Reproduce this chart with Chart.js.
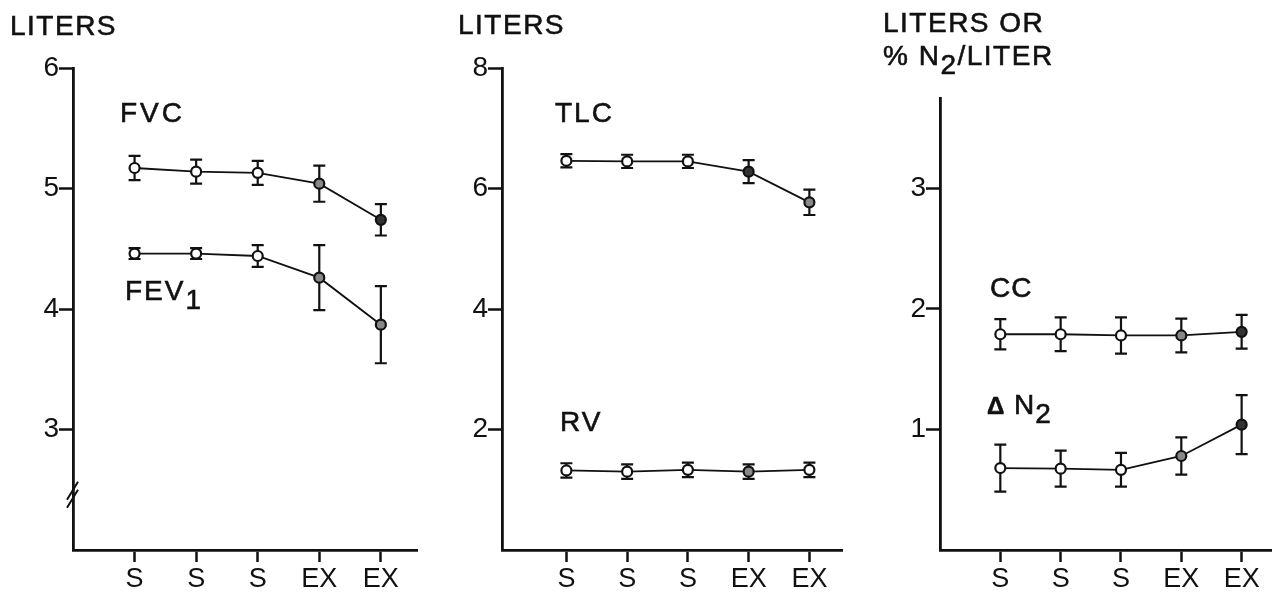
<!DOCTYPE html>
<html><head><meta charset="utf-8">
<script src="https://cdn.jsdelivr.net/npm/chart.js@4/dist/chart.umd.min.js"></script>
<style>
html,body{margin:0;padding:0;background:#fff;}
#wrap{position:relative;width:1279px;height:598px;overflow:hidden;font-family:"Liberation Sans",Arial,sans-serif;color:#111;}
canvas{position:absolute;top:0;}
.lab{position:absolute;white-space:nowrap;line-height:1;font-size:28px;letter-spacing:1.5px;-webkit-text-stroke:0.6px #111;}
.lab sub{font-size:28px;vertical-align:-9px;line-height:0;}
</style></head><body>
<div id="wrap">
<canvas id="c1" width="425" height="598" style="left:0"></canvas>
<canvas id="c2" width="425" height="598" style="left:425px"></canvas>
<canvas id="c3" width="429" height="598" style="left:850px"></canvas>
<div class="lab" style="left:10px;top:12px">LITERS</div>
<div class="lab" style="left:458px;top:11px">LITERS</div>
<div class="lab" style="left:883px;top:9px">LITERS OR</div>
<div class="lab" style="left:883px;top:42px">% N<sub>2</sub>/LITER</div>
<div class="lab" style="left:120px;top:99px;letter-spacing:3px">FVC</div>
<div class="lab" style="left:125px;top:277px;letter-spacing:2px">FEV<sub>1</sub></div>
<div class="lab" style="left:555px;top:99px;letter-spacing:2px">TLC</div>
<div class="lab" style="left:560px;top:408px;letter-spacing:2px">RV</div>
<div class="lab" style="left:990px;top:274px;letter-spacing:1px">CC</div>
<div class="lab" style="left:987px;top:391px;letter-spacing:1px"><span style="font-size:24px;font-weight:bold">&#916;</span> N<sub>2</sub></div>
</div>
<script>
// ---- data ----
const categories = ['S', 'S', 'S', 'EX', 'EX'];
const fvc    = [5.17, 5.14, 5.13, 5.04, 4.74];
const fvcErr = [0.10, 0.10, 0.10, 0.15, 0.13];
const fev1    = [4.46, 4.46, 4.44, 4.26, 3.87];
const fev1Err = [0.045, 0.045, 0.09, 0.27, 0.32];
const tlc    = [6.46, 6.45, 6.45, 6.28, 5.77];
const tlcErr = [0.11, 0.11, 0.11, 0.19, 0.21];
const rv    = [1.32, 1.30, 1.33, 1.30, 1.33];
const rvErr = [0.12, 0.12, 0.12, 0.12, 0.12];
const cc    = [1.79, 1.79, 1.78, 1.78, 1.81];
const ccErr = [0.125, 0.14, 0.15, 0.14, 0.14];
const dn2    = [0.68, 0.675, 0.665, 0.78, 1.04];
const dn2Err = [0.195, 0.15, 0.14, 0.155, 0.245];
const yTicks1 = [3, 4, 5, 6];
const yTicks2 = [2, 4, 6, 8];
const yTicks3 = [1, 2, 3];

const INK = '#111';
const FONT = '"Liberation Sans", Arial, sans-serif';

const errPlugin = {
  id: 'errbars',
  beforeDatasetsDraw(chart) {
    const ctx = chart.ctx, xs = chart.scales.x, ys = chart.scales.y;
    chart.data.datasets.forEach(ds => {
      if (!ds.errs) return;
      ctx.save();
      ctx.strokeStyle = INK; ctx.lineWidth = 2.2;
      ds.data.forEach((p, i) => {
        const x = xs.getPixelForValue(p.x);
        const y1 = ys.getPixelForValue(p.y + ds.errs[i]);
        const y2 = ys.getPixelForValue(p.y - ds.errs[i]);
        ctx.beginPath();
        ctx.moveTo(x, y1); ctx.lineTo(x, y2);
        ctx.moveTo(x - 6, y1); ctx.lineTo(x + 6, y1);
        ctx.moveTo(x - 6, y2); ctx.lineTo(x + 6, y2);
        ctx.stroke();
      });
      ctx.restore();
    });
  }
};
const breakPlugin = {
  id: 'axisbreak',
  afterDraw(chart, args, opts) {
    if (!opts || !opts.at) return;
    const ctx = chart.ctx, ys = chart.scales.y, x = chart.chartArea.left;
    const y = ys.getPixelForValue(opts.at);
    ctx.save(); ctx.strokeStyle = INK; ctx.lineWidth = 2;
    ctx.beginPath();
    ctx.moveTo(x - 6, y + 4); ctx.lineTo(x + 5, y - 14);
    ctx.moveTo(x - 6, y + 12); ctx.lineTo(x + 5, y - 6);
    ctx.stroke(); ctx.restore();
  }
};

function series(vals, errs, fills) {
  return {
    data: vals.map((v, i) => ({ x: i + 1, y: v })),
    errs: errs,
    borderColor: INK, borderWidth: 1.8,
    pointRadius: 5, pointBorderWidth: 2.2, pointBorderColor: INK,
    pointBackgroundColor: fills,
    showLine: true, tension: 0
  };
}

function panel(id, cfg) {
  return new Chart(document.getElementById(id), {
    type: 'scatter',
    data: { datasets: cfg.datasets },
    plugins: [errPlugin, breakPlugin],
    options: {
      responsive: false, animation: false,
      layout: { padding: { top: cfg.padTop, right: cfg.padRight, left: 0, bottom: 0 } },
      plugins: { legend: { display: false }, tooltip: { enabled: false }, axisbreak: { at: cfg.breakAt } },
      scales: {
        x: {
          type: 'linear', min: cfg.xMin, max: cfg.xMax,
          afterBuildTicks: s => { s.ticks = categories.map((c, i) => ({ value: i + 1 })); },
          afterFit: s => { s.height = 48; },
          ticks: { color: INK, font: { family: FONT, size: 27 }, padding: 1, autoSkip: false, maxRotation: 0,
                   callback: (v, i) => categories[i] },
          grid: { drawOnChartArea: false, drawTicks: true, tickLength: 12, tickWidth: 2.5, color: INK },
          border: { display: true, width: 2.8, color: INK }
        },
        y: {
          type: 'linear', min: cfg.yMin, max: cfg.yMax,
          afterBuildTicks: s => { s.ticks = cfg.yTicks.map(v => ({ value: v })); },
          afterFit: s => { s.width = cfg.yWidth; },
          ticks: { color: INK, font: { family: FONT, size: 28 }, padding: 0 },
          grid: { drawOnChartArea: false, drawTicks: true, tickLength: 14, tickWidth: 2.5, color: INK },
          border: { display: true, width: 2.8, color: INK }
        }
      }
    }
  });
}

const W = '#fff', G = '#888', D = '#333';
panel('c1', {
  padTop: 68, padRight: 5, yWidth: 73, yMin: 2, yMax: 6, yTicks: yTicks1, xMin: 0, xMax: 5.6, breakAt: 2.45,
  datasets: [ series(fvc, fvcErr, [W, W, W, G, D]), series(fev1, fev1Err, [W, W, W, G, G]) ]
});
panel('c2', {
  padTop: 68, padRight: 2, yWidth: 77, yMin: 0, yMax: 8, yTicks: yTicks2, xMin: -0.06, xMax: 5.55,
  datasets: [ series(tlc, tlcErr, [W, W, W, D, G]), series(rv, rvErr, [W, W, W, G, W]) ]
});
panel('c3', {
  padTop: 98, padRight: 0, yWidth: 90, yMin: 0, yMax: 3.75, yTicks: yTicks3, xMin: 0, xMax: 5.5,
  datasets: [ series(cc, ccErr, [W, W, W, G, D]), series(dn2, dn2Err, [W, W, W, G, D]) ]
});
</script>
</body></html>
